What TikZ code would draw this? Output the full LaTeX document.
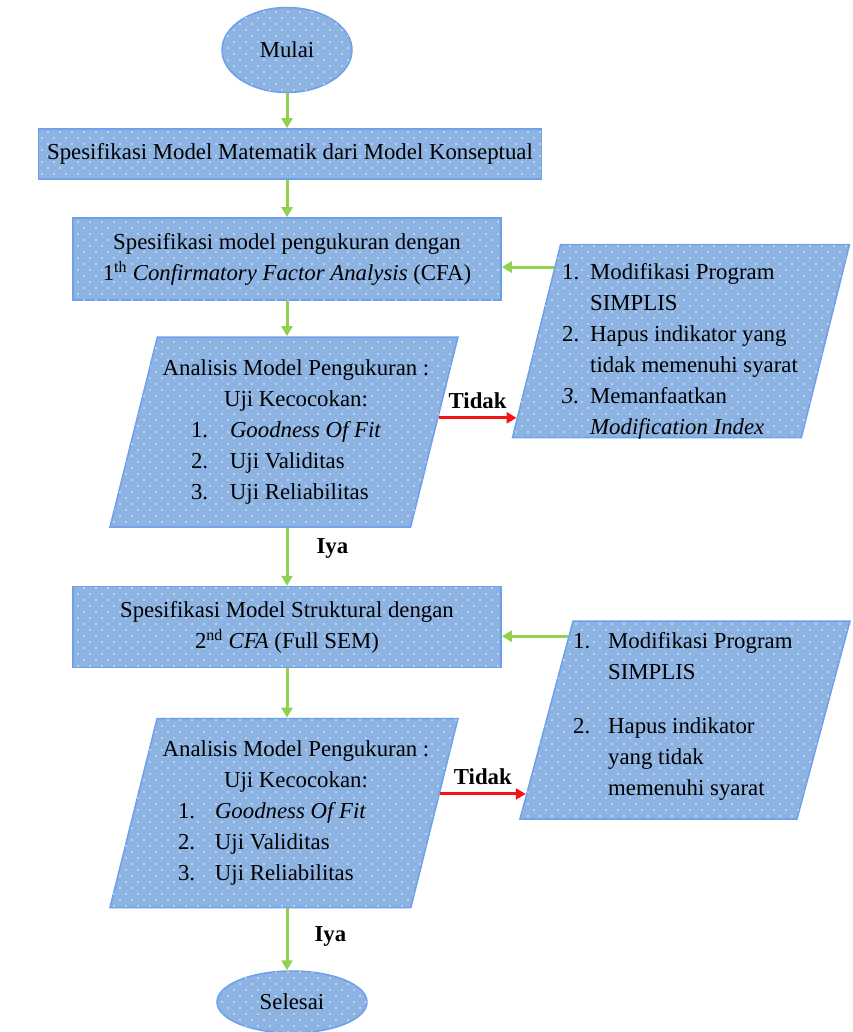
\documentclass[tikz,border=0pt]{standalone}
\usepackage{fontspec}
\setmainfont{Liberation Serif}
\usetikzlibrary{shapes.geometric,arrows.meta,patterns.meta,calc}
\definecolor{isibiru}{RGB}{141,179,226}
\definecolor{garisbiru}{RGB}{110,160,236}
\definecolor{panahhijau}{RGB}{146,208,80}
\definecolor{panahmerah}{RGB}{245,20,20}
\tikzdeclarepattern{name=titik, type=uncolored,
  bounding box={(-1.5pt,-1.5pt) and (13.5pt,13.5pt)}, tile size={(12pt,12pt)},
  code={\fill (0pt,0pt) circle (0.9pt); \fill (6pt,6pt) circle (0.9pt);}}
\tikzset{
  blok/.style={draw=garisbiru, line width=1.5pt, fill=isibiru,
    postaction={pattern=titik, pattern color=white!80!isibiru}},
  kotak/.style={blok, rectangle, inner sep=0pt},
  lonjong/.style={blok, ellipse, inner sep=0pt},
  jajar/.style={blok, trapezium, trapezium left angle=#1, trapezium right angle=180-#1,
    trapezium stretches body=true, inner sep=2pt},
  teks/.style={font=\fontsize{22.8}{31}\selectfont, inner sep=0pt},
  hijau/.style={draw=panahhijau, line width=3pt, -{Triangle[length=10pt,width=11pt]}},
  merah/.style={draw=panahmerah, line width=3pt, -{Triangle[length=10pt,width=11pt]}}
}
\begin{document}
\begin{tikzpicture}[x=1pt,y=-1pt]
\useasboundingbox (0,0) rectangle (852,1032);
% kolom utama
\node[lonjong, minimum width=130pt, minimum height=85pt] (mulai) at (287,50) {};
\node[teks] at (mulai) {Mulai};
\node[kotak, minimum width=503pt, minimum height=50pt] (spes1) at (290,154) {};
\node[teks] at (spes1) {Spesifikasi Model Matematik dari Model Konseptual};
\node[kotak, minimum width=428pt, minimum height=82pt] (spes2) at (287,259) {};
\node[teks, align=center] at (spes2) {Spesifikasi model pengukuran dengan\\
  1\textsuperscript{th} \textit{Confirmatory Factor Analysis} (CFA)};
\node[jajar=76, minimum width=348pt] (cek1) at (284,432) {\rule{0pt}{186pt}};
\node[teks, align=center] at ([xshift=12pt]cek1.center) {Analisis Model Pengukuran :\\
  Uji Kecocokan:\\
  \makebox[210pt][l]{\makebox[39pt][l]{1.}\textit{Goodness Of Fit}}\\
  \makebox[210pt][l]{\makebox[39pt][l]{2.}Uji Validitas}\\
  \makebox[210pt][l]{\makebox[39pt][l]{3.}Uji Reliabilitas}};
\node[kotak, minimum width=428pt, minimum height=81pt] (spes3) at (287,627) {};
\node[teks, align=center] at (spes3) {Spesifikasi Model Struktural dengan\\
  2\textsuperscript{nd} \textit{CFA} (Full SEM)};
\node[jajar=76, minimum width=348pt] (cek2) at (284,813) {\rule{0pt}{185pt}};
\node[teks, align=center] at ([xshift=12pt]cek2.center) {Analisis Model Pengukuran :\\
  Uji Kecocokan:\\
  \makebox[236pt][l]{\makebox[37pt][l]{1.}\textit{Goodness Of Fit}}\\
  \makebox[236pt][l]{\makebox[37pt][l]{2.}Uji Validitas}\\
  \makebox[236pt][l]{\makebox[37pt][l]{3.}Uji Reliabilitas}};
\node[lonjong, minimum width=150pt, minimum height=62pt] (selesai) at (292,1002) {};
\node[teks] at (selesai) {Selesai};
% kolom modifikasi
\node[jajar=76, minimum width=337pt] (mod1) at (681,341) {\rule{0pt}{189pt}};
\node[teks, align=left, anchor=west] at ([xshift=-119pt,yshift=-10pt]mod1.center) {%
  \makebox[28pt][l]{1.}Modifikasi Program\\
  \hspace*{28pt}SIMPLIS\\
  \makebox[28pt][l]{2.}Hapus indikator yang\\
  \hspace*{28pt}tidak memenuhi syarat\\
  \makebox[28pt][l]{\textit{3.}}Memanfaatkan\\
  \hspace*{28pt}\textit{Modification Index}};
\node[jajar=75, minimum width=330pt] (mod2) at (685,720) {\rule{0pt}{194pt}};
\node[teks, align=left, anchor=west] at ([xshift=-112pt,yshift=4pt]mod2.center) {%
  \makebox[35pt][l]{1.}Modifikasi Program\\
  \hspace*{35pt}SIMPLIS\\[23pt]
  \makebox[35pt][l]{2.}Hapus indikator\\
  \hspace*{35pt}yang tidak\\
  \hspace*{35pt}memenuhi syarat};
% titik ujung panah samping
\coordinate (t1a) at ($(cek1.bottom right corner)!0.574!(cek1.top right corner)$);
\coordinate (t1b) at ($(mod1.bottom left corner)!0.104!(mod1.top left corner)$);
\coordinate (t2a) at ($(cek2.bottom right corner)!0.6!(cek2.top right corner)$);
\coordinate (t2b) at ($(mod2.bottom left corner)!0.126!(mod2.top left corner)$);
\coordinate (b1) at ($(mod1.bottom left corner)!0.88!(mod1.top left corner)$);
\coordinate (b2) at ($(mod2.bottom left corner)!0.92!(mod2.top left corner)$);
% panah
\draw[hijau] (mulai.south) -- (mulai.south |- spes1.north);
\draw[hijau] (spes2.north |- spes1.south) -- (spes2.north);
\draw[hijau] (spes2.south) -- (spes2.south |- cek1.north);
\draw[hijau] (spes2.south |- cek1.south) -- node[pos=0.35, right=28pt, teks]{\textbf{Iya}} (spes3.north);
\draw[hijau] (spes3.south) -- (spes3.south |- cek2.north);
\draw[hijau] (spes3.south |- cek2.south) -- node[pos=0.45, right=26pt, teks]{\textbf{Iya}} (spes3.south |- selesai.north);
\draw[merah] (t1a) -- node[above=8pt, teks]{\textbf{Tidak}} (t1a -| t1b);
\draw[merah] (t2a) -- node[above=8pt, teks]{\textbf{Tidak}} (t2a -| t2b);
\draw[hijau] (b1) -- (b1 -| spes2.east);
\draw[hijau] (b2) -- (b2 -| spes3.east);
\end{tikzpicture}
\end{document}
